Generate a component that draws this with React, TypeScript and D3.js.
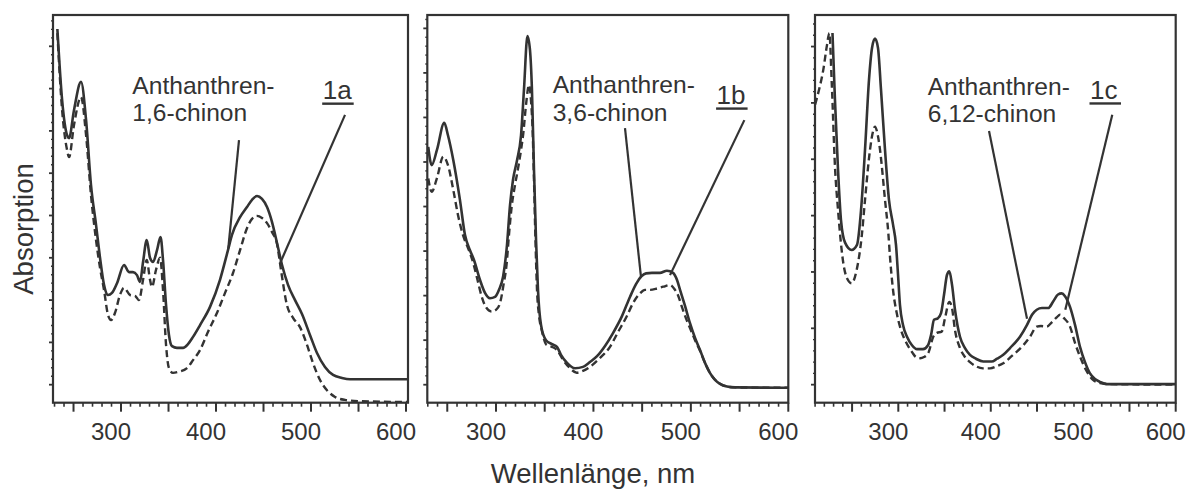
import React from "react";
import * as d3 from "d3";

type Pt = [number, number];

// ---------- data (wavelength nm, absorption in arbitrary tick units) ----------
const P1_SOLID: Pt[] = [[233,8.41],[238,6.73],[243.2,5.90],[245.3,5.83],[250.5,6.49],[257.9,7.16],[263.2,6.26],[268.4,4.72],[273.7,3.78],[277.9,3.00],[282.1,2.36],[286.3,2.12],[290.5,2.17],[295.8,2.40],[303.2,2.83],[308.4,2.66],[312.6,2.66],[316.8,2.59],[320,2.43],[323.2,2.90],[327.1,3.42],[330.5,3.00],[333.7,2.90],[337.9,3.18],[341.6,3.49],[344.2,2.95],[347.4,1.88],[350.5,1.17],[353.7,0.91],[358.9,0.87],[365.3,0.87],[370.5,0.96],[375.8,1.13],[383.2,1.41],[393.7,1.84],[404.2,2.48],[412.6,3.18],[416.8,3.54],[425.3,3.96],[432.6,4.20],[437.9,4.37],[443.2,4.46],[448.4,4.39],[453.7,4.20],[458.9,3.85],[464.2,3.35],[469.5,2.83],[475.8,2.36],[483.2,2.00],[490.5,1.67],[499,1.17],[506.3,0.75],[514.7,0.42],[523.2,0.23],[532.6,0.16],[541.1,0.13],[602,0.13]];
const P1_DASHED: Pt[] = [[233,8.31],[238,6.49],[243.2,5.55],[245.3,5.38],[250.5,6.14],[257.9,6.80],[263.2,5.90],[268.4,4.48],[273.7,3.42],[277.9,2.76],[282.1,2.24],[286.3,1.65],[289.5,1.53],[293.7,1.70],[298.9,2.12],[303.2,2.29],[309.5,2.12],[314.7,2.10],[318.9,2.00],[323.2,2.48],[327.1,2.95],[330.5,2.48],[332.6,2.31],[336.8,2.71],[341.1,3.00],[344.2,2.24],[347.4,0.94],[350.5,0.39],[354.7,0.28],[360,0.30],[369.5,0.39],[375.8,0.58],[383.2,0.82],[391.6,1.25],[401.1,1.70],[409.5,2.17],[417.9,2.64],[425.3,3.18],[432.6,3.70],[437.9,3.92],[443.2,3.99],[448.4,3.94],[453.7,3.82],[458.9,3.61],[464.2,3.33],[468.4,2.71],[474.7,1.88],[481.1,1.58],[488.4,1.36],[495.8,0.94],[502.1,0.51],[509.5,0.11],[516.8,-0.13],[525.3,-0.29],[535.8,-0.36],[551.6,-0.39],[602,-0.41]];

const P2_SOLID: Pt[] = [[230.5,5.34],[234.0,4.93],[239.4,5.27],[246.9,5.88],[250.7,5.60],[256.2,5.04],[263.0,4.15],[268.2,3.36],[273.3,3.02],[277.4,2.80],[283.6,2.35],[288.7,2.06],[293.8,1.94],[299.0,1.97],[303.1,2.13],[307.2,2.42],[311.3,3.14],[314.4,4.03],[317.4,4.59],[321.6,5.04],[325.7,5.60],[328.7,6.62],[332.3,7.83],[334.9,7.51],[336.9,6.62],[339.0,4.82],[341.1,3.25],[343.1,2.13],[346.2,1.34],[351.3,1.00],[357.5,0.91],[362.6,0.85],[366.7,0.67],[372.9,0.49],[381.1,0.37],[389.3,0.40],[396.5,0.51],[403.7,0.64],[411.9,0.87],[420.1,1.16],[429.3,1.54],[437.5,1.97],[443.7,2.26],[449.5,2.44],[454.0,2.50],[460.1,2.51],[468.3,2.51],[475.5,2.56],[481.7,2.51],[485.8,2.35],[488.9,2.13],[494.0,1.77],[499.1,1.38],[504.3,1.05],[509.4,0.78],[514.5,0.49],[519.7,0.26],[524.8,0.11],[529.9,0.02],[537.1,-0.04],[545.3,-0.06],[600,-0.07]];
const P2_DASHED: Pt[] = [[230.5,4.63],[234.0,4.33],[239.4,4.64],[245.9,5.12],[250.7,4.93],[256.2,4.37],[261.0,3.81],[266.4,3.34],[271.3,3.07],[276.7,2.73],[280.5,2.40],[285.3,1.98],[289.7,1.74],[295.6,1.64],[300,1.68],[304.1,1.83],[307.7,2.24],[311.0,2.73],[313.3,3.36],[316.1,4.00],[319.5,4.48],[322.9,4.89],[325.7,5.27],[328.0,5.64],[330.8,6.28],[333.9,6.73],[335.9,6.39],[337.7,5.64],[339.0,4.59],[340.5,3.25],[342.1,2.13],[344.1,1.56],[346.9,1.23],[352.0,0.89],[357.5,0.85],[362.6,0.78],[369.1,0.55],[376.0,0.37],[382.8,0.27],[389.3,0.31],[396.5,0.40],[406.7,0.60],[417.0,0.85],[425.2,1.18],[434.1,1.53],[440.6,1.83],[447.8,2.05],[452.9,2.13],[458.1,2.13],[465.3,2.16],[471.7,2.20],[478.6,2.24],[483.7,2.13],[486.8,2.01],[490.9,1.74],[495.7,1.45],[499.1,1.27],[504.3,1.00],[509.4,0.76],[514.5,0.49],[519.7,0.26],[524.8,0.11],[529.9,0.02],[537.1,-0.04],[545.3,-0.06],[600,-0.07]];

const P3_SOLID: Pt[] = [[228.8,6.24],[231.5,5.05],[234.8,3.81],[238.0,2.92],[242.4,2.52],[249.6,2.39],[255.3,2.48],[259.7,3.10],[264.0,4.17],[268.3,5.41],[271.6,5.98],[274.8,6.14],[278.0,5.98],[281.3,5.23],[285.6,4.17],[289.9,3.28],[294.3,2.84],[297.5,2.48],[299.7,1.95],[301.8,1.41],[305.1,1.06],[309.4,0.85],[314.8,0.70],[320.2,0.63],[326.7,0.63],[332.1,0.70],[335.4,0.88],[338.6,1.15],[342.9,1.18],[346.2,1.27],[349.4,1.59],[352.7,1.95],[355.2,2.01],[358.1,1.77],[361.3,1.33],[366.7,0.85],[372.1,0.65],[377.5,0.53],[384.0,0.46],[391.9,0.41],[401.0,0.41],[406.7,0.46],[413.5,0.53],[420.8,0.65],[431.6,0.85],[439.2,1.06],[444.6,1.24],[449.7,1.33],[455.4,1.36],[462.2,1.36],[467.3,1.47],[472.7,1.60],[476.7,1.62],[480.3,1.57],[485.7,1.38],[491.1,1.06],[496.5,0.67],[501.9,0.40],[507.3,0.20],[512.7,0.10],[518.1,0.05],[525.4,0.01],[600,0.01]];
const P3_DASHED: Pt[] = [[210,4.97],[214.2,5.23],[218.9,5.59],[222.9,6.03],[225.4,6.24],[228.0,5.36],[231.5,3.87],[234.8,3.10],[236.9,2.69],[240.5,2.16],[244.5,1.89],[249.6,1.80],[255.0,2.04],[260.4,2.63],[264.0,3.28],[269.4,4.17],[272.6,4.49],[274.8,4.58],[277.0,4.49],[280.2,4.17],[285.6,3.28],[289.2,2.69],[291.0,2.27],[294.3,1.68],[298.3,1.27],[302.9,0.97],[309.1,0.73],[314.8,0.58],[319.1,0.49],[323.5,0.47],[327.8,0.49],[332.4,0.56],[337.8,0.85],[341.8,0.92],[346.9,0.94],[350.5,1.18],[355.2,1.47],[358.1,1.36],[361.3,0.97],[366.7,0.65],[372.1,0.49],[377.5,0.40],[384.8,0.32],[391.6,0.29],[399.2,0.29],[406.7,0.33],[413.5,0.38],[422.9,0.51],[435.2,0.70],[442.4,0.85],[449.7,1.03],[454.3,1.04],[460.5,1.03],[466.2,1.11],[471.6,1.20],[474.9,1.24],[479.2,1.18],[485.7,1.03],[491.1,0.74],[496.5,0.50],[503.0,0.26],[510.9,0.08],[518.1,0.03],[528.9,0.01],[600,0.00]];

// pointer lines [from, to] in data units
const P1_POINTERS: [Pt, Pt][] = [[[424.2, 5.78], [412.9, 3.22]], [[535.8, 6.38], [467.4, 2.87]]];
const P2_POINTERS: [Pt, Pt][] = [[[432.4, 5.76], [448.8, 2.42]], [[554.9, 5.94], [478.6, 2.46]]];
const P3_POINTERS: [Pt, Pt][] = [[[398.1, 4.50], [439.2, 1.17]], [[531.4, 4.79], [480.6, 1.33]]];

const COMPOUND_NAMES = ["1,6-chinon", "3,6-chinon", "6,12-chinon"];
const COMPOUND_PREFIX = "Anthanthren-";
const COMPOUND_ANCHORS: Pt[] = [[311.9, 6.87], [358.2, 6.54], [331.8, 5.14]];
const SAMPLE_LABELS = ["1a", "1b", "1c"];
const SAMPLE_ANCHORS: Pt[] = [[512.3, 6.75], [526.4, 6.30], [507.3, 5.07]];

const X_TICK_LABELS = [300, 400, 500, 600];
const Y_TITLE = "Absorption";
const X_TITLE = "Wellenlänge, nm";

// ---------- layout ----------
const LAYOUT = [
  { left: 53, top: 15, right: 408, bottom: 402.7, x: [228.4, 602.1], y: [-0.426, 8.74], yMax: 8 },
  { left: 427.3, top: 15, right: 788.3, bottom: 402.7, x: [229.5, 600], y: [-0.404, 8.30], yMax: 8 },
  { left: 815, top: 15, right: 1175.7, bottom: 402.7, x: [209.9, 600], y: [-0.32, 6.56], yMax: 6 },
];
const SERIES = [
  { solid: P1_SOLID, dashed: P1_DASHED, pointers: P1_POINTERS },
  { solid: P2_SOLID, dashed: P2_DASHED, pointers: P2_POINTERS },
  { solid: P3_SOLID, dashed: P3_DASHED, pointers: P3_POINTERS },
];

const INK = "#333333";
const FONT = "'Liberation Sans', Arial, Helvetica, sans-serif";

function Panel({ i }: { i: number }) {
  const L = LAYOUT[i];
  const S = SERIES[i];
  const xs = d3.scaleLinear().domain(L.x).range([L.left, L.right]);
  const ys = d3.scaleLinear().domain(L.y).range([L.bottom, L.top]);
  const line = d3
    .line<Pt>()
    .x((d) => xs(d[0]))
    .y((d) => ys(d[1]))
    .curve(d3.curveMonotoneX);

  const xTicks = d3.range(Math.ceil(L.x[0] / 10) * 10, L.x[1] + 0.01, 10);
  const yTicks = d3.range(0, L.y[1], 0.2);
  const clipId = `clip${i}`;
  const [cx, cy] = COMPOUND_ANCHORS[i];
  const [sx, sy] = SAMPLE_ANCHORS[i];

  return (
    <g>
      <defs>
        <clipPath id={clipId}>
          <rect x={L.left} y={L.top} width={L.right - L.left} height={L.bottom - L.top} />
        </clipPath>
      </defs>
      <g clipPath={`url(#${clipId})`} fill="none" stroke={INK} strokeLinejoin="round">
        <path d={line(S.dashed) || ""} strokeWidth={2.4} strokeDasharray="7,4" />
        <path d={line(S.solid) || ""} strokeWidth={2.6} />
      </g>
      {S.pointers.map((p, k) => (
        <line
          key={k}
          x1={xs(p[0][0])}
          y1={ys(p[0][1])}
          x2={xs(p[1][0])}
          y2={ys(p[1][1])}
          stroke={INK}
          strokeWidth={2.2}
        />
      ))}
      {xTicks.map((v) => {
        const major = Math.abs(v % 50) < 0.01;
        return (
          <line
            key={"xt" + v}
            x1={xs(v)}
            x2={xs(v)}
            y1={L.bottom}
            y2={L.bottom + (major ? 9 : 4)}
            stroke={INK}
            strokeWidth={major ? 2 : 1.6}
          />
        );
      })}
      {yTicks.map((v, k) => {
        const major = Math.abs(v - Math.round(v)) < 0.01;
        return (
          <line
            key={"yt" + k}
            x1={L.left}
            x2={L.left - (major ? 4 : 2)}
            y1={ys(v)}
            y2={ys(v)}
            stroke={INK}
            strokeWidth={major ? 1.8 : 1.4}
          />
        );
      })}
      <rect
        x={L.left}
        y={L.top}
        width={L.right - L.left}
        height={L.bottom - L.top}
        fill="none"
        stroke={INK}
        strokeWidth={2.2}
      />
      {X_TICK_LABELS.map((v) => (
        <text
          key={"xl" + v}
          x={xs(v) - 10}
          y={440}
          textAnchor="middle"
          fontSize={24}
          fontFamily={FONT}
          fill={INK}
        >
          {v}
        </text>
      ))}
      <text x={xs(cx)} y={ys(cy)} fontSize={24.6} fontFamily={FONT} fill={INK}>
        <tspan x={xs(cx)}>{COMPOUND_PREFIX}</tspan>
        <tspan x={xs(cx)} dy={27.4}>
          {COMPOUND_NAMES[i]}
        </tspan>
      </text>
      <text x={xs(sx)} y={ys(sy)} fontSize={26} fontFamily={FONT} fill={INK}>
        {SAMPLE_LABELS[i]}
      </text>
      <line
        x1={xs(sx) - 0.5}
        x2={xs(sx) + 31}
        y1={ys(sy) + 4.5}
        y2={ys(sy) + 4.5}
        stroke={INK}
        strokeWidth={2.4}
      />
    </g>
  );
}

export default function App() {
  return (
    <svg
      width={1188}
      height={489}
      viewBox="0 0 1188 489"
      style={{ position: "absolute", left: 0, top: 0, background: "#fff" }}
    >
      <rect x={0} y={0} width={1188} height={489} fill="#fff" />
      {LAYOUT.map((_, i) => (
        <Panel key={i} i={i} />
      ))}
      <text
        transform="translate(33,229) rotate(-90)"
        textAnchor="middle"
        fontSize={27.5}
        fontFamily={FONT}
        fill={INK}
      >
        {Y_TITLE}
      </text>
      <text x={593} y={483} textAnchor="middle" fontSize={27.5} fontFamily={FONT} fill={INK}>
        {X_TITLE}
      </text>
    </svg>
  );
}
